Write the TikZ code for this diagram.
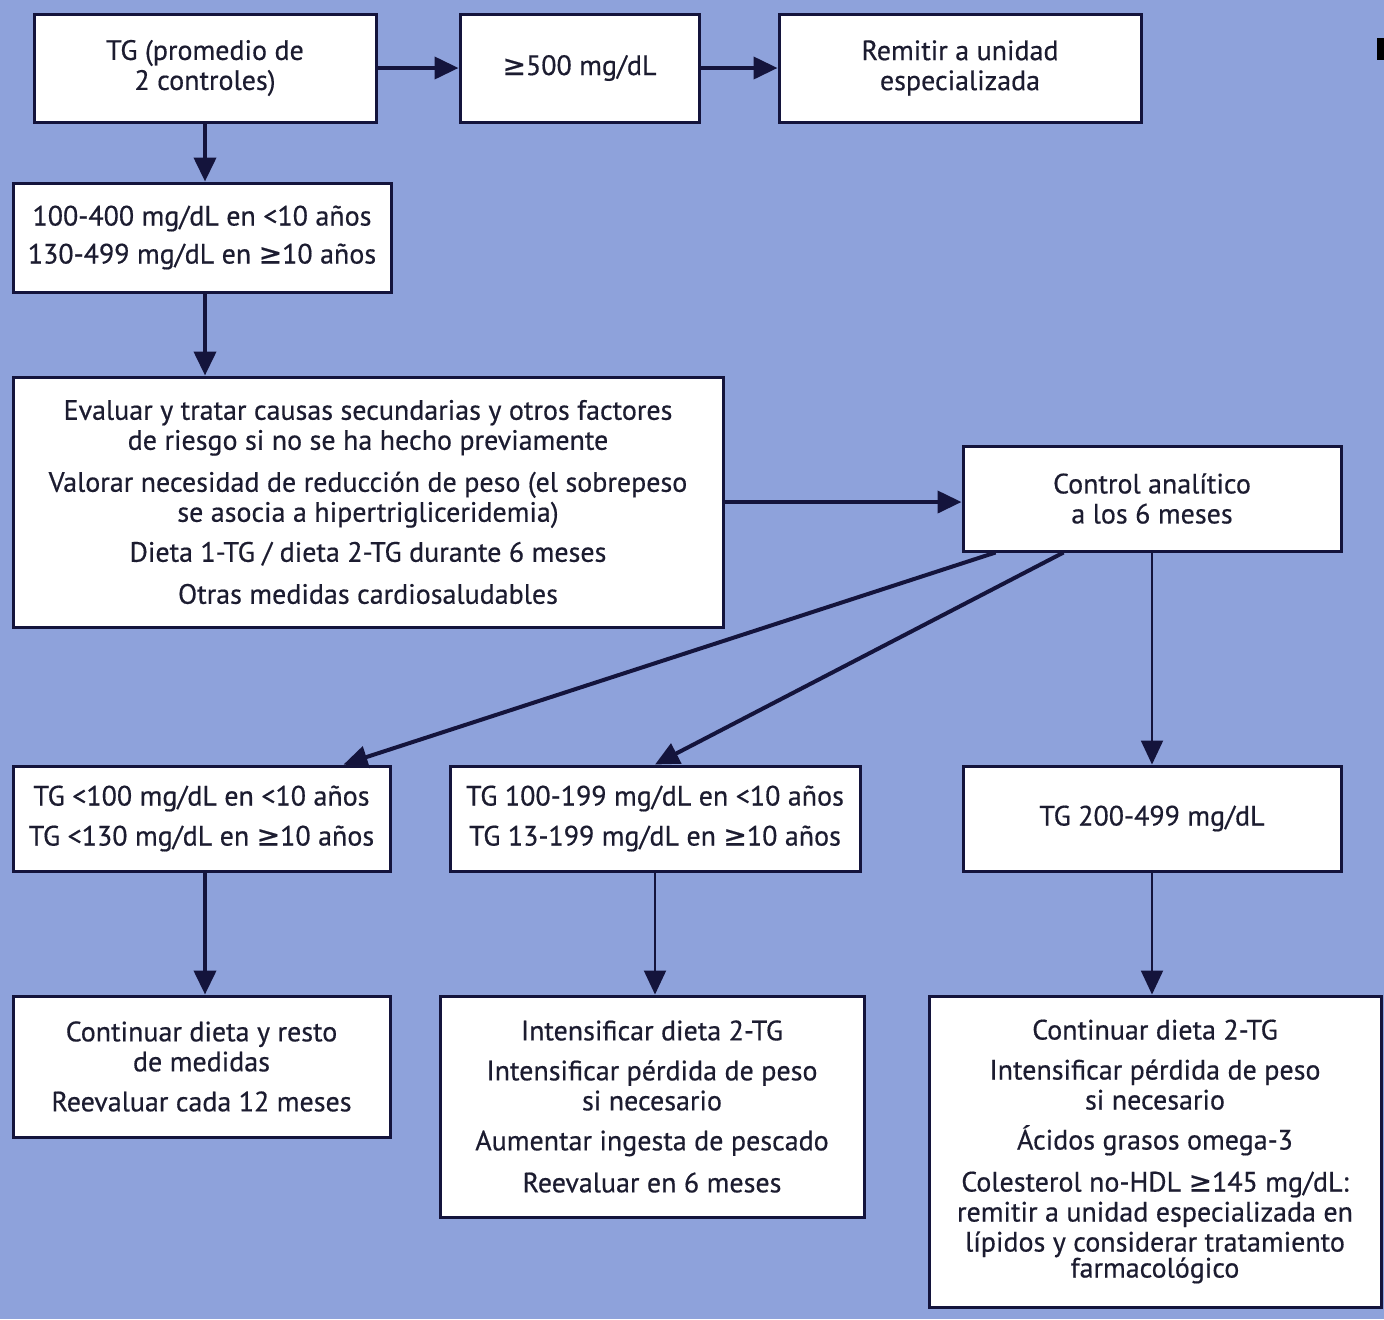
\documentclass[tikz,border=0pt]{standalone}
\usepackage{fontspec}
\setmainfont[FakeBold=0.5]{PT Sans}
\newfontfamily\symfont[FakeBold=0.5]{DejaVu Sans}
\newcommand{\gequal}{{\symfont ≥}}
\usetikzlibrary{arrows.meta}
\definecolor{bgblue}{RGB}{142,162,219}
\definecolor{navy}{RGB}{20,20,60}
\definecolor{ink}{RGB}{28,28,48}
\tikzset{every picture/.style={line width=0.75pt}}
\tikzset{
  stepbox/.style={draw=navy, line width=1.5pt, fill=white, text=ink, align=center, inner sep=0pt,
    font=\fontsize{14}{15}\selectfont},
  flow/.style={draw=navy, line width=2pt, -{Triangle[length=12pt,width=11pt]}},
  thinflow/.style={draw=navy, line width=1pt, -{Triangle[length=12pt,width=11pt]}},
}

\begin{document}
\begin{tikzpicture}[x=0.5pt,y=-0.5pt]
    \fill[bgblue] (0,0) rectangle (1384,1319);
    \fill[black] (1377,38) rectangle (1384,60);
    \node[stepbox, minimum width=171pt, minimum height=54pt] (tg) at (205,68) {TG (promedio de\\2 controles)};
    \node[stepbox, minimum width=119.5pt, minimum height=54pt] (ge500) at (579.5,68) {\gequal500 mg/dL};
    \node[stepbox, minimum width=181pt, minimum height=54pt] (remit) at (960,68) {Remitir a unidad\\especializada};
    \node[stepbox, minimum width=189pt, minimum height=54.5pt] (range) at (202,237.5) {100-400 mg/dL en <10 años\\[4pt]130-499 mg/dL en \gequal10 años};
    \node[stepbox, minimum width=355pt, minimum height=125pt] (eval) at (368,502) {Evaluar y tratar causas secundarias y otros factores\\de riesgo si no se ha hecho previamente\\[6pt]Valorar necesidad de reducción de peso (el sobrepeso\\se asocia a hipertrigliceridemia)\\[5pt]Dieta 1-TG / dieta 2-TG durante 6 meses\\[6pt]Otras medidas cardiosaludables};
    \node[stepbox, minimum width=189pt, minimum height=52.5pt] (ctrl) at (1152,498.5) {Control analítico\\a los 6 meses};
    \node[stepbox, minimum width=188.5pt, minimum height=52.5pt] (low) at (201.5,818.5) {TG <100 mg/dL en <10 años\\[5pt]TG <130 mg/dL en \gequal10 años};
    \node[stepbox, minimum width=205pt, minimum height=52.5pt] (mid) at (655,818.5) {TG 100-199 mg/dL en <10 años\\[5pt]TG 13-199 mg/dL en \gequal10 años};
    \node[stepbox, minimum width=189pt, minimum height=52.5pt] (high) at (1152,818.5) {TG 200-499 mg/dL};
    \node[stepbox, minimum width=188.5pt, minimum height=70.5pt] (cont) at (201.5,1066.5) {Continuar dieta y resto\\de medidas\\[5pt]Reevaluar cada 12 meses};
    \node[stepbox, minimum width=212pt, minimum height=110.5pt] (intens) at (652,1106.5) {Intensificar dieta 2-TG\\[5pt]Intensificar pérdida de peso\\si necesario\\[5pt]Aumentar ingesta de pescado\\[6pt]Reevaluar en 6 meses};
    \node[stepbox, minimum width=226pt, minimum height=155.5pt] (cont2) at (1155,1151.5) {Continuar dieta 2-TG\\[5pt]Intensificar pérdida de peso\\si necesario\\[5pt]Ácidos grasos omega-3\\[6pt]Colesterol no-HDL \gequal145 mg/dL:\\remitir a unidad especializada en\\lípidos y considerar tratamiento\\[-2pt]farmacológico};
    \draw[flow] (tg) -- (ge500);
    \draw[flow] (ge500) -- (remit);
    \draw[flow] (tg.south) -- (tg.south |- range.north);
    \draw[flow] (tg.south |- range.south) -- (tg.south |- eval.north);
    \draw[flow] (eval.east) -- (eval.east -| ctrl.west);
    \draw[flow] ([xshift=17pt]ctrl.south west) -- ([xshift=166pt]low.north west);
    \draw[flow] ([xshift=51pt]ctrl.south west) -- (mid.north);
    \draw[thinflow] (ctrl) -- (high);
    \draw[flow] (tg.south |- low.south) -- (tg.south |- cont.north);
    \draw[thinflow] (mid.south) -- (mid.south |- intens.north);
    \draw[thinflow] (high.south) -- (high.south |- cont2.north);
\end{tikzpicture}
\end{document}
